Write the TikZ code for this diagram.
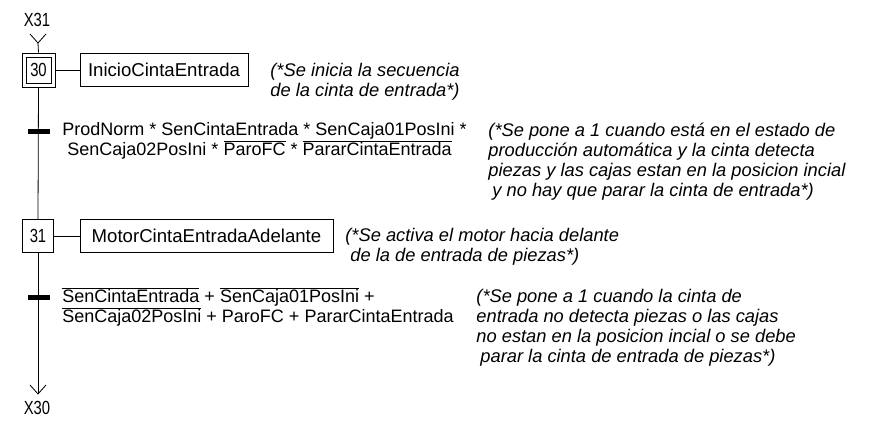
\documentclass[tikz,border=0pt]{standalone}
\usepackage{fontspec}
\setmainfont{Liberation Sans}
\usetikzlibrary{arrows.meta}
\newcommand{\ovl}[1]{$\overline{\hbox{#1}}$}
\newcommand{\nar}[1]{\scalebox{0.78}[1]{#1}}
\begin{document}
\begin{tikzpicture}[x=1pt,y=-1pt,line width=0.8pt,
  stepbox/.style={draw,minimum width=30pt,minimum height=30pt,inner sep=0pt,font=\fontsize{19}{20}\selectfont},
  actbox/.style={draw,minimum height=33pt,inner sep=0pt,font=\fontsize{18.6}{20}\selectfont},
  cond/.style={inner sep=0pt,font=\fontsize{18}{18}\selectfont},
  cmt/.style={inner sep=0pt,align=left,anchor=west,font=\fontsize{18.3}{20}\selectfont\itshape},
  lab/.style={inner sep=0pt,font=\fontsize{19}{20}\selectfont},
  bar/.style={fill=black,minimum width=22pt,minimum height=5pt,inner sep=0pt}]
\useasboundingbox (0,0) rectangle (888,442);
% labels
\node[lab] (x31) at (37,20) {\nar{X31}};
\node[lab] (x30) at (37,408) {\nar{X30}};
\coordinate (top) at (38,43);
\coordinate (bot) at (38,394);
% steps
\node[stepbox,minimum width=33pt,minimum height=34pt] (s30o) at (38.5,70) {};
\node[stepbox,minimum width=25pt,minimum height=26pt] (s30) at (38.5,70) {\nar{30}};
\node[stepbox,minimum width=31pt,minimum height=33pt] (s31) at (38,236) {\nar{31}};
% actions
\node[actbox,minimum width=168pt] (a30) at (164,70) {InicioCintaEntrada};
\node[actbox,minimum width=253pt] (a31) at (206.5,236) {MotorCintaEntradaAdelante};
% transitions
\node[bar] (t1) at (38.5,131.5) {};
\node[bar] (t2) at (38.5,297.5) {};
\node[cond,align=left,anchor=west] (c1) at (62,141) {ProdNorm * SenCintaEntrada * SenCaja01PosIni *\\
\hspace*{5pt}SenCaja02PosIni * \ovl{ParoFC} * \ovl{PararCintaEntrada}};
\node[cond,align=left,anchor=west] (c2) at (62,307) {\ovl{SenCintaEntrada} + \ovl{SenCaja01PosIni} +\\
\ovl{SenCaja02PosIni} + ParoFC + PararCintaEntrada};
% comments
\node[cmt] (k1) at (270,82) {(*Se inicia la secuencia\\de la cinta de entrada*)};
\node[cmt] (k2) at (488,162) {(*Se pone a 1 cuando está en el estado de\\producción automática y la cinta detecta\\piezas y las cajas estan en la posicion incial\\\hspace*{4pt}y no hay que parar la cinta de entrada*)};
\node[cmt] (k3) at (345,246.5) {(*Se activa el motor hacia delante\\\hspace*{5pt}de la de entrada de piezas*)};
\node[cmt] (k4) at (476,328) {(*Se pone a 1 cuando la cinta de\\entrada no detecta piezas o las cajas\\no estan en la posicion incial o se debe\\\hspace*{4pt}parar la cinta de entrada de piezas*)};
% connectors
\draw (30,34) -- (top) -- (46,34);
\draw (top) -- (s30o.north);
\draw (s30o.south) -- (s31.north);
\draw (s31.south) -- (bot);
\draw (30,385) -- (bot) -- (46,385);
\draw (s30o.east) -- (a30.west);
\draw (s31.east) -- (a31.west);
\end{tikzpicture}
\end{document}
